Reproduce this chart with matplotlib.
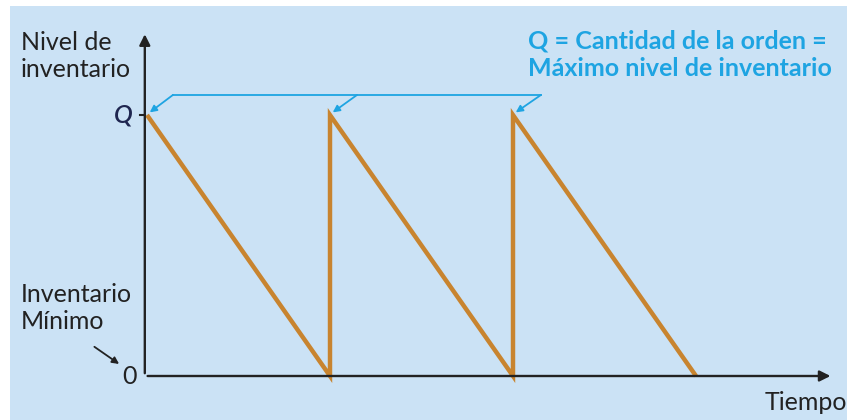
import matplotlib.pyplot as plt
from matplotlib.patches import Rectangle

# inventory sawtooth (time in order cycles, level as fraction of Q)
tiempo = [0, 1, 1, 2, 2, 3]
nivel = [1, 0, 1, 0, 1, 0]
pedidos = [0, 1, 2]          # moments when an order of size Q arrives

fondo = "#cbe2f5"
naranja = "#c8842f"
azul = "#1ea4e2"
oscuro = "#222222"

plt.rcParams['font.family'] = ['Lato', 'DejaVu Sans']

fig = plt.figure(figsize=(8.47, 4.2), dpi=100)
fig.patches.append(Rectangle((10 / 847, 0), 1, 414 / 420, transform=fig.transFigure,
                             facecolor=fondo, edgecolor='none', zorder=-10))

ax = fig.add_axes([0, 0, 1, 1])
ax.set_xlim(-147 / 183, 700 / 183)
ax.set_ylim(-44 / 261, 376 / 261)
ax.axis('off')

# axes with arrows
ax.annotate('', xy=(3.75, 0), xytext=(-0.012, 0),
            arrowprops=dict(arrowstyle='-|>', color=oscuro, lw=1.7, mutation_scale=16))
ax.annotate('', xy=(-0.012, 1.32), xytext=(-0.012, 0),
            arrowprops=dict(arrowstyle='-|>', color=oscuro, lw=1.7, mutation_scale=16))
ax.plot([-0.04, -0.012], [1, 1], color=oscuro, lw=1.5)

ax.plot(tiempo, nivel, color=naranja, lw=3.2, solid_capstyle='butt', solid_joinstyle='miter')

# bracket pointing to each order peak
ax.plot([pedidos[0] + 0.142, pedidos[-1] + 0.153], [1.077, 1.077], color=azul, lw=1.3)
for i, t in enumerate(pedidos):
    dx = 0.142 if i == 0 else (0.148 if i == 1 else 0.153)
    ax.annotate('', xy=(t + 0.015, 1.01), xytext=(t + dx, 1.077),
                arrowprops=dict(arrowstyle='-|>', color=azul, lw=1.3, mutation_scale=10,
                                shrinkA=0, shrinkB=0))

ax.text(-0.69, 1.225, 'Nivel de\ninventario', fontsize=18, color=oscuro,
        ha='left', va='center', linespacing=1.2)
ax.text(-0.077, 1.0, 'Q', fontsize=18, color='#1f2650', style='italic', fontweight='semibold',
        ha='right', va='center')
ax.text(-0.69, 0.26, 'Inventario\nMínimo', fontsize=18, color=oscuro,
        ha='left', va='center', linespacing=1.2)
ax.text(-0.055, 0.0, '0', fontsize=18, color=oscuro, ha='right', va='center')
ax.annotate('', xy=(-0.14, 0.04), xytext=(-0.3, 0.118),
            arrowprops=dict(arrowstyle='-|>', color=oscuro, lw=1.3, mutation_scale=10))
ax.text(3.825, -0.1, 'Tiempo', fontsize=18, color=oscuro, ha='right', va='center')

ax.text(2.082, 1.23, 'Q = Cantidad de la orden =\nMáximo nivel de inventario',
        fontsize=18, fontweight='bold', color=azul, ha='left', va='center', linespacing=1.25)

fig.savefig('out.png', dpi=100)
